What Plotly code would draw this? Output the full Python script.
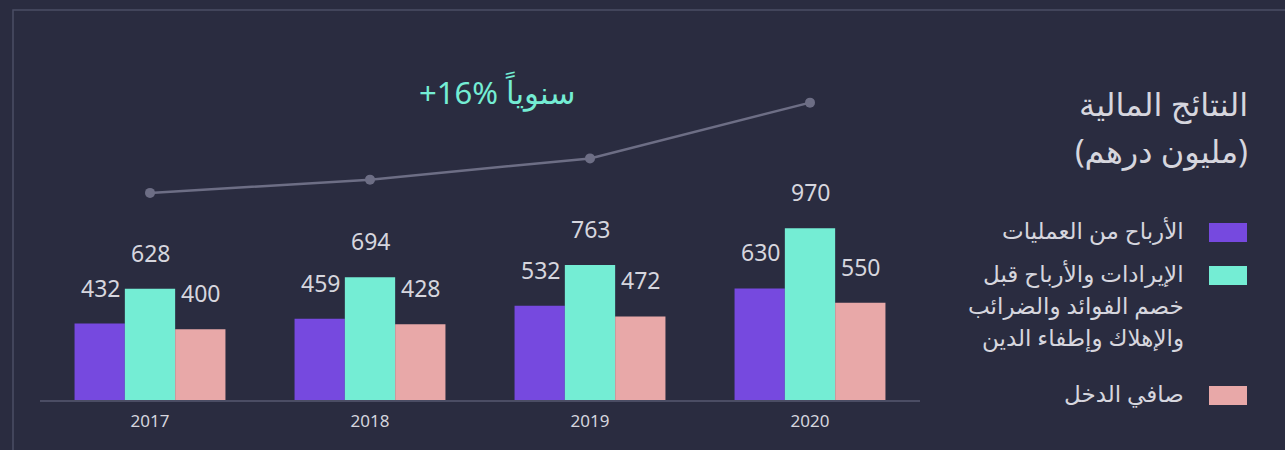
"""Financial results bar chart (AED million), dark theme, Arabic labels."""

import plotly.graph_objects as go

years = ["2017", "2018", "2019", "2020"]
operating_profit = [432, 459, 532, 630]
ebitda = [628, 694, 763, 970]
net_income = [400, 428, 472, 550]
trend_line = [1170, 1245, 1365, 1680]

series_names = [
    ["الأرباح من العمليات"],
    ["الإيرادات والأرباح قبل", "خصم الفوائد والضرائب", "والإهلاك وإطفاء الدين"],
    ["صافي الدخل"],
]
legend_title = ["النتائج المالية", "(مليون درهم)"]
growth_label = "+16% سنوياً"

BG = "#2a2c40"
FRAME = "#4b4d64"
TEXT = "#d6d6de"
COLORS = ["#7649df", "#74edd4", "#e8a8a8"]
FONT = "Noto Sans, DejaVu Sans, sans-serif"

# plot area geometry (pixels) used to place paper-referenced decorations
W, H = 1285, 450
L, R, T, B = 40, 365, 30, 50
PW, PH = W - L - R, H - T - B


def px_x(x):
    return (x - L) / PW


def px_y(y):
    return (H - B - y) / PH


def paper_text(x, y, text, size, color=TEXT, xanchor="right"):
    fig.add_annotation(
        x=px_x(x), y=px_y(y), xref="paper", yref="paper",
        xanchor=xanchor, yanchor="middle",
        text=text, showarrow=False,
        font=dict(size=size, color=color, family=FONT),
    )


fig = go.Figure()

all_series = [operating_profit, ebitda, net_income]
for name, vals, color in zip(series_names, all_series, COLORS):
    fig.add_trace(go.Bar(
        x=years, y=vals, name=" ".join(name),
        marker=dict(color=color, line=dict(width=0)),
        hoverinfo="y",
    ))

fig.add_trace(go.Scatter(
    x=years, y=trend_line, mode="lines+markers",
    line=dict(color="#6d6e85", width=2.5),
    marker=dict(color="#6d6e85", size=10),
    hoverinfo="skip",
))

# value labels above the bars (category index, since "2017" would read as an index)
for i, vals in enumerate(all_series):
    for j, v in enumerate(vals):
        fig.add_annotation(
            x=j, y=v, text=str(v), showarrow=False,
            xshift=(i - 1) * 50, yanchor="bottom", yshift=18,
            font=dict(size=23, color=TEXT, family=FONT),
        )

paper_text(497, 92, growth_label, 31, color="#74edd4", xanchor="center")

# legend drawn by hand: swatch on the right, text right-aligned to its left
paper_text(1250, 103, legend_title[0], 32)
paper_text(1250, 150, legend_title[1], 32)

swatch_tops = [223, 266, 386]
for lines, color, top in zip(series_names, COLORS, swatch_tops):
    fig.add_shape(
        type="rect", xref="paper", yref="paper",
        x0=px_x(1209), x1=px_x(1247), y0=px_y(top), y1=px_y(top + 19),
        fillcolor=color, line=dict(width=0),
    )
    for k, line in enumerate(lines):
        paper_text(1186, top + 7 + 32 * k, line, 23)

# outer frame, running off the right and bottom edges
fig.add_shape(
    type="rect", xref="paper", yref="paper",
    x0=px_x(13), x1=px_x(1300), y0=px_y(470), y1=px_y(10),
    line=dict(color=FRAME, width=1.5), fillcolor="rgba(0,0,0,0)",
    layer="below",
)

fig.update_xaxes(
    type="category", showgrid=False, ticks="",
    showline=True, linecolor=FRAME, linewidth=2,
    ticklabelstandoff=5,
    tickfont=dict(size=17, color=TEXT, family=FONT),
)
fig.update_yaxes(
    range=[0, PH / 0.177], visible=False, showgrid=False, zeroline=False,
)

fig.update_layout(
    width=W, height=H,
    margin=dict(l=L, r=R, t=T, b=B),
    paper_bgcolor=BG, plot_bgcolor=BG,
    barmode="group", bargap=0.314, bargroupgap=0,
    showlegend=False,
    font=dict(family=FONT, color=TEXT),
)

fig.write_html(
    "out.html",
    config={"displayModeBar": False},
    post_script="document.body.style.margin='0';",
)
